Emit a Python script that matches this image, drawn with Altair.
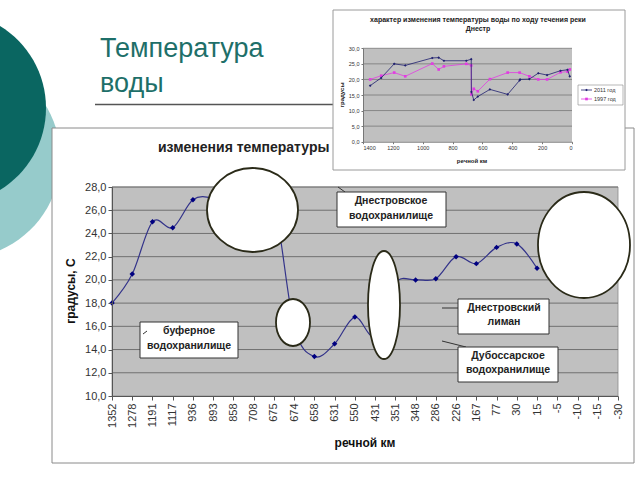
import altair as alt
import pandas as pd

# ---------------- data ----------------
CATS = ["1352", "1278", "1191", "1117", "936", "893", "858", "708", "675", "674",
        "658", "631", "550", "431", "351", "348", "286", "226", "167", "77",
        "30", "15", "-5", "-10", "-15", "-30"]
KM_2011 = [1352, 1278, 1191, 1117, 936, 893, 858, 708, 675, 674, 658, 631, 550,
           431, 351, 348, 286, 226, 167, 77, 30, 15]
T_2011 = [18.0, 20.5, 25.0, 24.5, 26.9, 27.0, 26.0, 26.0, 26.5, 16.0, 13.4, 14.5,
          16.8, 15.2, 19.7, 20.0, 20.1, 22.0, 21.4, 22.8, 23.1, 21.0]
KM_1997 = [1352, 1278, 1191, 1117, 936, 893, 858, 708, 675, 674, 658, 631, 550,
           431, 351, 286, 226, 167, 77, 30, 15]
T_1997 = [20.0, 21.2, 22.2, 21.0, 25.1, 23.2, 24.2, 25.0, 24.5, 15.2, 17.0, 16.2,
          20.1, 22.2, 22.2, 21.0, 20.0, 20.0, 22.3, 22.5, 23.2]
Y_TICKS = [10, 12, 14, 16, 18, 20, 22, 24, 26, 28]
INSET_X_TICKS = [1400, 1200, 1000, 800, 600, 400, 200, 0]
INSET_Y_TICKS = [0, 5, 10, 15, 20, 25, 30]

# ---------------- layout ----------------
OX, OY = 112, 187          # page position of main plot area
W, H = 506, 209
FONT = "Liberation Sans"


def px(x):
    return x - OX


def py(y):
    return y - OY


ONE = alt.Data(values=[{"a": 1}])


def rect(x1, y1, x2, y2, fill, stroke, sw=1.0):
    return alt.Chart(ONE).mark_rect(fill=fill, stroke=stroke, strokeWidth=sw).encode(
        x=alt.value(px(x1)), x2=alt.value(px(x2)), y=alt.value(py(y1)), y2=alt.value(py(y2)))


def seg(x1, y1, x2, y2, color="#333333", sw=1.0):
    return alt.Chart(ONE).mark_rule(color=color, strokeWidth=sw).encode(
        x=alt.value(px(x1)), x2=alt.value(px(x2)), y=alt.value(py(y1)), y2=alt.value(py(y2)))


def label(x, y, s, size, color="#222222", weight="normal", align="center",
          baseline="middle", angle=0, lh=None):
    kw = dict(fontSize=size, color=color, fontWeight=weight, align=align,
              baseline=baseline, font=FONT, lineBreak="\n")
    if angle:
        kw["angle"] = angle
    if lh:
        kw["lineHeight"] = lh
    return alt.Chart(ONE).mark_text(**kw).encode(
        x=alt.value(px(x)), y=alt.value(py(y)), text=alt.value(s))


def ellipse(cx, cy, rx, ry, fill, stroke=None, sw=1.6):
    m = max(rx, ry)
    a, b = rx / m, ry / m
    k = 0.5523
    path = (f"M {a:.4f} 0 C {a:.4f} {k*b:.4f} {k*a:.4f} {b:.4f} 0 {b:.4f} "
            f"C {-k*a:.4f} {b:.4f} {-a:.4f} {k*b:.4f} {-a:.4f} 0 "
            f"C {-a:.4f} {-k*b:.4f} {-k*a:.4f} {-b:.4f} 0 {-b:.4f} "
            f"C {k*a:.4f} {-b:.4f} {a:.4f} {-k*b:.4f} {a:.4f} 0 Z")
    kw = dict(shape=path, size=(2 * m) ** 2, filled=True, fill=fill, opacity=1)
    if stroke:
        kw.update(stroke=stroke, strokeWidth=sw)
    else:
        kw.update(strokeWidth=0)
    return alt.Chart(ONE).mark_point(**kw).encode(
        x=alt.value(px(cx)), y=alt.value(py(cy)))


# ---------------- main chart ----------------
main_df = pd.DataFrame({"km": [str(k) for k in KM_2011], "t": T_2011})
grid_df = pd.DataFrame({"t": Y_TICKS[1:]})

x_main = alt.X("km:O", title=None,
               scale=alt.Scale(domain=CATS, padding=0),
               axis=alt.Axis(orient="bottom", labelAngle=-90, labelFontSize=11,
                             labelFont=FONT, labelColor="#333333", labelPadding=3,
                             labelOverlap=False, tickSize=4, tickColor="#555555",
                             domainColor="#555555", grid=False, zindex=1))
y_main = alt.Y("t:Q", title=None,
               scale=alt.Scale(domain=[10, 28], nice=False, zero=False),
               axis=alt.Axis(orient="left", values=Y_TICKS, labelFontSize=11,
                             labelFont=FONT, labelColor="#333333", labelPadding=2,
                             labelExpr="replace(format(datum.value, '.1f'), '.', ',')",
                             tickSize=4, tickColor="#555555", domainColor="#555555",
                             grid=False, zindex=1))

slide = [
    ellipse(-40, 158, 100.5, 100.5, "#96cbcb"),
    ellipse(-50, 108, 96, 96, "#0a6661"),
    label(100, 57, "Температура", 27, color="#1e6f69", align="left", baseline="alphabetic"),
    label(100, 92, "воды", 27, color="#1e6f69", align="left", baseline="alphabetic"),
    seg(95, 104.5, 333, 104.5, color="#555555", sw=1.5),
    rect(52, 128, 634, 463, "white", "#8a8a8a", 1),
    label(158, 148, "изменения температуры", 14, color="#222222", weight="bold", align="left"),
    label(71, 291, "градусы, С", 12, color="#111111", weight="bold", angle=270),
    label(365, 443, "речной км", 12, color="#111111", weight="bold"),
    rect(OX, OY, OX + W, OY + H, "#c0c0c0", "#8c8c8c", 0.8),
]

grid = alt.Chart(grid_df).mark_rule(color="#707070", strokeWidth=1).encode(
    y=y_main, x=alt.value(0), x2=alt.value(W))
line = alt.Chart(main_df).mark_line(interpolate="cardinal", color="#33338a",
                                    strokeWidth=1.2).encode(x=x_main, y=y_main)
pts = alt.Chart(main_df).mark_point(shape="diamond", filled=True, color="#000080",
                                    size=30, opacity=1).encode(x=x_main, y=y_main)

ELL = "#2a2a18"
overlays = [
    ellipse(252.5, 210, 45.5, 42, "white", ELL, 1.8),
    ellipse(293, 322.5, 17, 23.5, "white", ELL, 1.8),
    ellipse(384, 305, 16, 54, "white", ELL, 1.8),
    ellipse(584, 245, 46, 53, "white", ELL, 1.8),
    rect(140, 322, 238, 358, "white", "#333333", 1),
    seg(143, 334, 147, 331),
    label(189, 331, "буферное\nводохранилище", 10.5, weight="bold", lh=15),
    seg(338, 187, 345, 192),
    rect(337, 192, 446, 227, "white", "#333333", 1),
    label(391, 201, "Днестровское\nводохранилище", 10.5, weight="bold", lh=15),
    seg(442, 308, 458, 308),
    rect(458, 299, 549, 334, "white", "#333333", 1),
    label(504, 308, "Днестровский\nлиман", 10.5, weight="bold", lh=14),
    seg(442, 341, 466, 347),
    rect(458, 347, 558, 382, "white", "#333333", 1),
    label(508, 356, "Дубоссарское\nводохранилище", 10.5, weight="bold", lh=14),
]

main_group = alt.layer(*slide, grid, line, pts, *overlays)

# ---------------- inset chart ----------------
IX0, IX1 = 363, 572        # page x of km 1400 and km 0
IY0, IY1 = 141.7, 48.3     # page y of 0 and 30 degrees

x_in = alt.X("km:Q", title=None,
             scale=alt.Scale(domain=[1400, 0], range=[px(IX0), px(IX1)], nice=False, zero=False),
             axis=alt.Axis(orient="bottom", offset=-(H - py(IY0)), values=INSET_X_TICKS,
                           format="d", labelFontSize=5.5, labelFont=FONT,
                           labelColor="#333333", labelPadding=2, tickSize=2,
                           tickColor="#777777", domainColor="#777777", grid=False,
                           labelOverlap=False, zindex=1))
y_in = alt.Y("t:Q", title=None,
             scale=alt.Scale(domain=[0, 30], range=[py(IY0), py(IY1)], nice=False, zero=False),
             axis=alt.Axis(orient="left", offset=-px(IX0), values=INSET_Y_TICKS,
                           labelExpr="replace(format(datum.value, '.1f'), '.', ',')",
                           labelFontSize=5.5, labelFont=FONT, labelColor="#333333",
                           labelPadding=2, tickSize=2, tickColor="#777777",
                           domainColor="#777777", grid=False, zindex=1))

in_bg = alt.Chart(pd.DataFrame({"km": [1400], "km2": [0], "t": [0], "t2": [30]})).mark_rect(
    fill="#c0c0c0").encode(x=x_in, x2="km2:Q", y=y_in, y2="t2:Q")
in_grid = alt.Chart(pd.DataFrame({"t": INSET_Y_TICKS[1:]})).mark_rule(
    color="#777777", strokeWidth=0.8).encode(y=y_in, x=alt.value(px(IX0)), x2=alt.value(px(IX1)))
df11 = pd.DataFrame({"km": KM_2011, "t": T_2011})
df97 = pd.DataFrame({"km": KM_1997, "t": T_1997})
C11, C97 = "#1f1f70", "#e23ce2"
l97 = alt.Chart(df97).mark_line(color=C97, strokeWidth=0.8).encode(x=x_in, y=y_in)
p97 = alt.Chart(df97).mark_point(shape="square", filled=True, color=C97, size=7, opacity=1).encode(x=x_in, y=y_in)
l11 = alt.Chart(df11).mark_line(color=C11, strokeWidth=0.8).encode(x=x_in, y=y_in)
p11 = alt.Chart(df11).mark_point(shape="diamond", filled=True, color=C11, size=7, opacity=1).encode(x=x_in, y=y_in)

inset_parts = [
    rect(333, 10, 625, 170, "white", "#9a9a9a", 1),
    label(478, 20, "характер изменения температуры воды по ходу течения реки", 7, weight="bold"),
    label(478, 29, "Днестр", 7, weight="bold"),
    in_bg, in_grid, l97, p97, l11, p11,
    label(342, 95, "градусы", 6, weight="bold", angle=270),
    label(472, 161, "речной км", 6, weight="bold"),
    rect(578, 85, 623, 105, "white", "#888888", 0.6),
    seg(581, 90, 592, 90, color=C11, sw=0.8),
    seg(581, 99, 592, 99, color=C97, sw=0.8),
    alt.Chart(ONE).mark_point(shape="diamond", filled=True, color=C11, size=7, opacity=1).encode(
        x=alt.value(px(586.5)), y=alt.value(py(90))),
    alt.Chart(ONE).mark_point(shape="square", filled=True, color=C97, size=7, opacity=1).encode(
        x=alt.value(px(586.5)), y=alt.value(py(99))),
    label(594, 90, "2011 год", 5.5, color="#333333", align="left"),
    label(594, 99, "1997 год", 5.5, color="#333333", align="left"),
]
inset_group = alt.layer(*inset_parts)

chart = alt.layer(main_group, inset_group).resolve_scale(
    x="independent", y="independent"
).properties(
    width=W, height=H,
    autosize=alt.AutoSizeParams(type="none"),
    padding={"left": OX, "top": OY, "right": 640 - OX - W, "bottom": 480 - OY - H},
    background="white",
).configure_view(strokeWidth=0)

chart.save("out.html", embed_options={"renderer": "svg", "actions": False})
